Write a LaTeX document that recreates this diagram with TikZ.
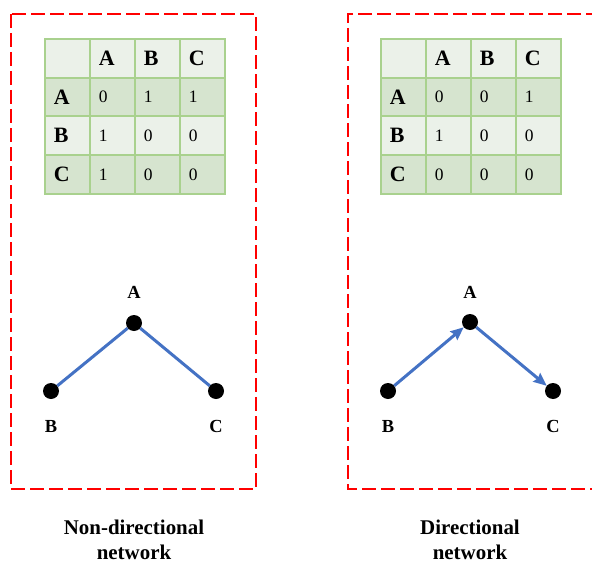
\documentclass[tikz,border=0pt]{standalone}
\usepackage{fontspec}
\setmainfont{Liberation Serif}
\usetikzlibrary{arrows.meta}
\definecolor{tgreen}{HTML}{A9D18E}
\definecolor{tlight}{HTML}{EBF1E9}
\definecolor{tdark}{HTML}{D6E4CF}
\definecolor{eblue}{HTML}{4472C4}
\definecolor{bred}{HTML}{FF0000}
\tikzset{
  redbox/.style={draw=bred, line width=1.6bp, dash pattern=on 14bp off 5bp},
  cell/.style={draw=tgreen, line width=1.8bp, minimum width=45bp, minimum height=38.75bp,
    text width=27bp, align=left, inner xsep=9bp, inner ysep=0pt, anchor=north west},
  head/.style={font=\fontsize{22}{26}\selectfont\bfseries},
  digit/.style={font=\fontsize{17.5}{21}\selectfont},
  dot/.style={circle, fill=black, minimum width=15bp, minimum height=16bp, inner sep=0pt},
  vlabel/.style={font=\fontsize{18.5}{22}\selectfont\bfseries},
  edge/.style={draw=eblue, line width=3bp},
  arr/.style={edge, -{Stealth[length=13bp, width=11bp, inset=1.5bp]}},
  caption/.style={font=\fontsize{21}{25.5}\selectfont\bfseries, align=center}
}
\begin{document}
\begin{tikzpicture}[x=1bp,y=-1bp]
\useasboundingbox (0,0) rectangle (592,563);
\begin{scope}
\clip (0,0) rectangle (592,563);
% dashed frames
\draw[redbox] (11,14) rectangle (256,489);
\draw[redbox] (600,14) -- (348,14) -- (348,489) -- (600,489);

% left table
\foreach \r/\fillc/\a/\b/\c/\d [count=\i from 0] in
  {0/tlight/{}/A/B/C, 1/tdark/A/0/1/1, 2/tlight/B/1/0/0, 3/tdark/C/1/0/0}{
  \node[cell, fill=\fillc, head] (L\i0) at (44, 38+\i*38.75) {\a};
  \ifnum\i=0
    \node[cell, fill=\fillc, head] (L\i1) at (89, 38+\i*38.75) {\b};
    \node[cell, fill=\fillc, head] (L\i2) at (134, 38+\i*38.75) {\c};
    \node[cell, fill=\fillc, head] (L\i3) at (179, 38+\i*38.75) {\d};
  \else
    \node[cell, fill=\fillc, digit] (L\i1) at (89, 38+\i*38.75) {\b};
    \node[cell, fill=\fillc, digit] (L\i2) at (134, 38+\i*38.75) {\c};
    \node[cell, fill=\fillc, digit] (L\i3) at (179, 38+\i*38.75) {\d};
  \fi
}
% right table
\foreach \r/\fillc/\a/\b/\c/\d [count=\i from 0] in
  {0/tlight/{}/A/B/C, 1/tdark/A/0/0/1, 2/tlight/B/1/0/0, 3/tdark/C/0/0/0}{
  \node[cell, fill=\fillc, head] (R\i0) at (380, 38+\i*38.75) {\a};
  \ifnum\i=0
    \node[cell, fill=\fillc, head] (R\i1) at (425, 38+\i*38.75) {\b};
    \node[cell, fill=\fillc, head] (R\i2) at (470, 38+\i*38.75) {\c};
    \node[cell, fill=\fillc, head] (R\i3) at (515, 38+\i*38.75) {\d};
  \else
    \node[cell, fill=\fillc, digit] (R\i1) at (425, 38+\i*38.75) {\b};
    \node[cell, fill=\fillc, digit] (R\i2) at (470, 38+\i*38.75) {\c};
    \node[cell, fill=\fillc, digit] (R\i3) at (515, 38+\i*38.75) {\d};
  \fi
}

% left graph
\node[dot] (LA) at (134,323) {};
\node[dot] (LB) at (51,391) {};
\node[dot] (LC) at (216,391) {};
\node[vlabel] (LAl) at (134,292) {A};
\node[vlabel] (LBl) at (51,426) {B};
\node[vlabel] (LCl) at (216,426) {C};
\draw[edge] (LB) -- (LA);
\draw[edge] (LA) -- (LC);

% right graph
\node[dot] (RA) at (470,322) {};
\node[dot] (RB) at (388,391) {};
\node[dot] (RC) at (553,391) {};
\node[vlabel] (RAl) at (470,292) {A};
\node[vlabel] (RBl) at (388,426) {B};
\node[vlabel] (RCl) at (553,426) {C};
\draw[arr] (RB) -- (RA);
\draw[arr] (RA) -- (RC);

% captions
\node[caption] (cap1) at (134,540) {Non-directional\\network};
\node[caption] (cap2) at (470,540) {Directional\\network};
\end{scope}
\end{tikzpicture}
\end{document}
